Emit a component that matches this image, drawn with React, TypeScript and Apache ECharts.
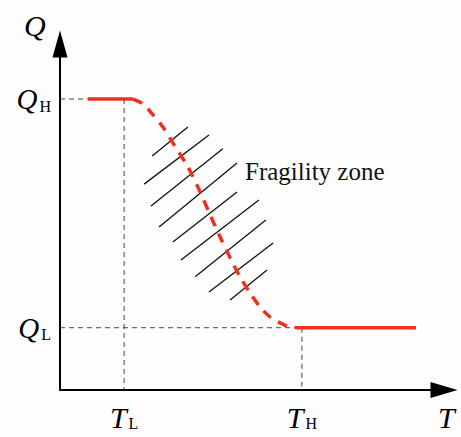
import React, { useEffect, useRef } from "react";
import * as echarts from "echarts";

// Abstract axis scales (no numeric ticks shown)
const T_MAX = 100;
const Q_MAX = 100;
const T_L = 16.7;
const T_H = 63;
const Q_H = 84.1;
const Q_L = 18;

// Red high plateau (solid)
const highPlateau: number[][] = [
  [7.3, Q_H],
  [19.0, Q_H],
];
// Red transition curve (dashed)
const transition: number[][] = [
  [19.0, 84.1],
  [21.6, 82.7],
  [24.0, 79.8],
  [26.8, 76.0],
  [29.9, 70.5],
  [33.3, 64.5],
  [36.5, 57.2],
  [39.1, 50.6],
  [41.7, 44.2],
  [44.3, 38.2],
  [46.9, 32.7],
  [49.5, 28.0],
  [52.1, 24.0],
  [54.7, 21.1],
  [57.3, 19.4],
  [59.9, 18.2],
  [63.0, 18.0],
];
// Red low plateau (solid)
const lowPlateau: number[][] = [
  [63.0, Q_L],
  [92.7, Q_L],
];
// Hatch segments of the fragility zone
const hatch: number[][][] = [
  [[24.0, 67.6], [33.3, 76.0]],
  [[21.9, 59.5], [38.8, 73.7]],
  [[23.7, 53.2], [42.4, 69.7]],
  [[25.8, 47.1], [46.1, 65.6]],
  [[29.4, 42.8], [46.1, 57.2]],
  [[31.5, 37.6], [51.8, 54.9]],
  [[35.2, 32.7], [53.6, 49.1]],
  [[38.8, 28.3], [55.5, 42.5]],
  [[44.3, 26.0], [53.9, 34.7]],
];
const xTickLabels = ["L", "H"];
const yTickLabels = ["L", "H"];

const RED = "#f0301e";
const SERIF = "'Liberation Serif', 'Times New Roman', serif";

export default function App() {
  const ref = useRef<HTMLDivElement>(null);
  useEffect(() => {
    if (!ref.current) return;
    const chart = echarts.init(ref.current, undefined, { renderer: "svg" });
    const guide = {
      type: "line",
      symbol: "none",
      silent: true,
      lineStyle: { color: "#444", width: 1, type: [5, 4] },
      z: 1,
    };
    const hatchSeries = hatch.map((seg) => ({
      type: "line",
      symbol: "none",
      silent: true,
      data: seg,
      lineStyle: { color: "#111", width: 1.3 },
      z: 2,
    }));
    chart.setOption({
      animation: false,
      backgroundColor: "#fdfdfe",
      grid: {
        left: 60,
        right: 17,
        top: 44,
        bottom: 47,
        containLabel: false,
        outerBoundsMode: "none",
      },
      xAxis: {
        type: "value",
        min: 0,
        max: T_MAX,
        splitLine: { show: false },
        axisTick: { show: false },
        axisLine: {
          show: true,
          onZero: false,
          symbol: ["none", "triangle"],
          symbolSize: [16, 27],
          lineStyle: { color: "#000", width: 2 },
        },
        axisLabel: {
          customValues: [T_L, T_H],
          margin: 13,
          formatter: (v: number) =>
            "{m|T}{s|" + (v === T_L ? xTickLabels[0] : xTickLabels[1]) + "}",
          rich: {
            m: {
              fontFamily: SERIF,
              fontStyle: "italic",
              fontSize: 30,
              lineHeight: 28,
              color: "#000",
              padding: [0, 2, 0, 0],
            },
            s: {
              fontFamily: SERIF,
              fontSize: 16,
              lineHeight: 15,
              color: "#000",
              verticalAlign: "bottom",
            },
          },
        },
      },
      yAxis: {
        type: "value",
        min: 0,
        max: Q_MAX,
        splitLine: { show: false },
        axisTick: { show: false },
        axisLine: {
          show: true,
          onZero: false,
          symbol: ["none", "triangle"],
          symbolSize: [15, 27],
          lineStyle: { color: "#000", width: 2 },
        },
        axisLabel: {
          customValues: [Q_L, Q_H],
          margin: 9,
          formatter: (v: number) =>
            "{m|Q}{s|" + (v === Q_L ? yTickLabels[0] : yTickLabels[1]) + "}",
          rich: {
            m: {
              fontFamily: SERIF,
              fontStyle: "italic",
              fontSize: 29,
              lineHeight: 30,
              color: "#000",
              padding: [0, 2, 0, 0],
            },
            s: {
              fontFamily: SERIF,
              fontSize: 16,
              lineHeight: 16,
              color: "#000",
              verticalAlign: "bottom",
            },
          },
        },
      },
      graphic: [
        {
          type: "text",
          left: 24,
          top: 10,
          style: {
            text: "Q",
            font: "italic 30px " + SERIF,
            fill: "#000",
          },
        },
        {
          type: "text",
          left: 438,
          top: 402,
          style: {
            text: "T",
            font: "italic 30px " + SERIF,
            fill: "#000",
          },
        },
        {
          type: "text",
          left: 245,
          top: 159,
          style: {
            text: "Fragility zone",
            font: "25px " + SERIF,
            fill: "#111",
          },
        },
      ],
      series: [
        { ...guide, data: [[0, Q_H], [T_L, Q_H]] },
        { ...guide, data: [[T_L, Q_H], [T_L, 0]] },
        { ...guide, data: [[0, Q_L], [T_H, Q_L]] },
        { ...guide, data: [[T_H, Q_L], [T_H, 0]] },
        ...hatchSeries,
        {
          type: "line",
          symbol: "none",
          data: highPlateau,
          lineStyle: { color: RED, width: 3.5 },
          z: 3,
        },
        {
          type: "line",
          symbol: "none",
          smooth: 0.3,
          data: transition,
          lineStyle: { color: RED, width: 3.5, type: [10, 8] },
          z: 3,
        },
        {
          type: "line",
          symbol: "none",
          data: lowPlateau,
          lineStyle: { color: RED, width: 3.5 },
          z: 3,
        },
      ],
    });
    return () => chart.dispose();
  }, []);
  return (
    <div
      ref={ref}
      style={{ position: "absolute", left: 0, top: 0, width: 461, height: 437 }}
    />
  );
}
